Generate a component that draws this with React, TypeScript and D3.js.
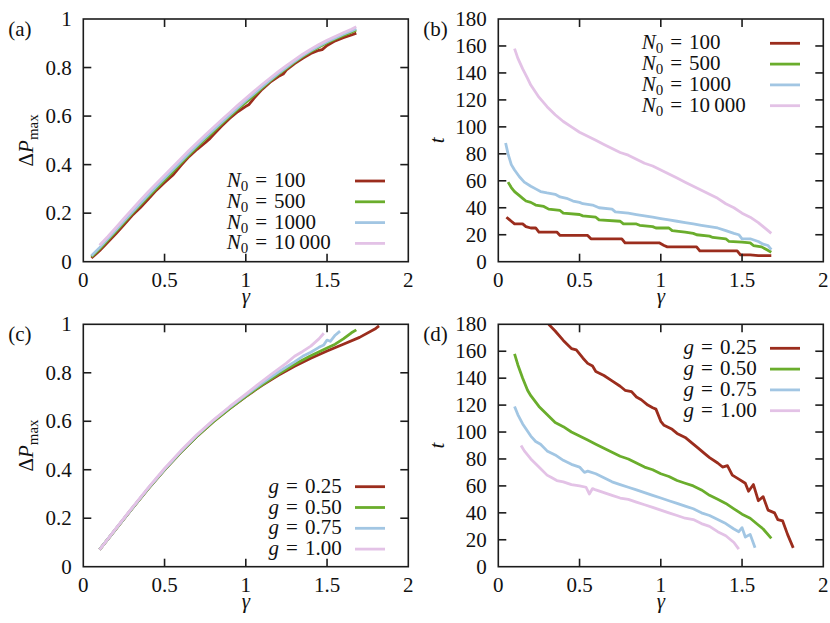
import React from 'react';
import * as d3 from 'd3';

// panel (a): Delta P_max vs gamma for several N0
const aN100 = [[0.05,0.015],[0.1,0.045],[0.15,0.08],[0.2,0.115],[0.25,0.152],[0.3,0.19],[0.35,0.222],[0.4,0.258],[0.45,0.295],[0.5,0.326],[0.55,0.356],[0.6,0.396],[0.65,0.433],[0.7,0.463],[0.75,0.49],[0.78,0.508],[0.8,0.523],[0.85,0.558],[0.9,0.59],[0.95,0.618],[1.0,0.64],[1.02,0.648],[1.05,0.673],[1.1,0.71],[1.15,0.74],[1.2,0.763],[1.23,0.773],[1.25,0.79],[1.3,0.816],[1.35,0.838],[1.4,0.858],[1.45,0.871],[1.47,0.874],[1.5,0.891],[1.55,0.91],[1.6,0.923],[1.65,0.934],[1.68,0.942]];
const aN500 = [[0.05,0.02],[0.1,0.052],[0.15,0.088],[0.2,0.124],[0.25,0.161],[0.3,0.198],[0.35,0.233],[0.4,0.268],[0.45,0.303],[0.5,0.337],[0.55,0.37],[0.6,0.405],[0.65,0.44],[0.7,0.473],[0.75,0.505],[0.8,0.535],[0.85,0.567],[0.9,0.598],[0.95,0.628],[1.0,0.656],[1.05,0.685],[1.1,0.716],[1.15,0.745],[1.2,0.772],[1.25,0.797],[1.3,0.822],[1.35,0.845],[1.4,0.866],[1.45,0.885],[1.5,0.902],[1.55,0.918],[1.6,0.932],[1.65,0.946],[1.68,0.955]];
const aN1000 = [[0.05,0.025],[0.1,0.058],[0.15,0.094],[0.2,0.13],[0.25,0.167],[0.3,0.204],[0.35,0.24],[0.4,0.276],[0.45,0.311],[0.5,0.345],[0.55,0.379],[0.6,0.413],[0.65,0.447],[0.7,0.48],[0.75,0.512],[0.8,0.543],[0.85,0.574],[0.9,0.605],[0.95,0.635],[1.0,0.664],[1.05,0.692],[1.1,0.721],[1.15,0.749],[1.2,0.776],[1.25,0.801],[1.3,0.826],[1.35,0.849],[1.4,0.87],[1.45,0.889],[1.5,0.906],[1.55,0.922],[1.6,0.937],[1.65,0.951],[1.68,0.96]];
const aN10000 = [[0.1,0.068],[0.15,0.103],[0.2,0.14],[0.25,0.178],[0.3,0.215],[0.35,0.252],[0.4,0.288],[0.45,0.322],[0.5,0.356],[0.55,0.39],[0.6,0.424],[0.65,0.458],[0.7,0.49],[0.75,0.522],[0.8,0.553],[0.85,0.584],[0.9,0.614],[0.95,0.644],[1.0,0.673],[1.05,0.702],[1.1,0.73],[1.15,0.757],[1.2,0.783],[1.25,0.808],[1.3,0.832],[1.35,0.855],[1.4,0.876],[1.45,0.895],[1.5,0.912],[1.55,0.928],[1.6,0.943],[1.65,0.958],[1.68,0.968]];

// panel (b): t vs gamma for several N0
const bN100 = [[0.05,33],[0.07,31],[0.08,30],[0.1,28],[0.15,28],[0.17,26],[0.2,25],[0.23,25],[0.25,22],[0.36,22],[0.38,19.5],[0.55,19.5],[0.57,17],[0.76,17],[0.78,14],[0.99,14],[1.02,12],[1.04,11],[1.22,11],[1.24,8],[1.47,8],[1.49,5],[1.55,5],[1.6,4.5],[1.68,4.5]];
const bN500 = [[0.06,59],[0.08,55],[0.1,52],[0.13,49],[0.15,47],[0.17,45],[0.2,44],[0.23,42],[0.28,41],[0.31,39],[0.38,38],[0.4,36],[0.5,35],[0.52,34],[0.6,33],[0.62,31],[0.75,30],[0.77,28],[0.85,28],[0.87,27],[0.95,26],[0.97,25],[1.05,25],[1.07,23],[1.15,22],[1.2,21],[1.22,20],[1.3,19],[1.32,18],[1.4,17],[1.42,15],[1.5,14.5],[1.55,14],[1.57,12],[1.62,11],[1.65,9],[1.68,7]];
const bN1000 = [[0.045,88],[0.06,80],[0.08,72],[0.1,68],[0.13,63],[0.16,59],[0.2,56],[0.23,54],[0.26,52],[0.3,51],[0.35,50],[0.38,48],[0.42,47],[0.46,45],[0.5,44],[0.52,43],[0.58,42],[0.62,40],[0.7,39],[0.72,37],[0.8,36],[0.85,35],[0.9,34],[0.95,33],[1.0,32],[1.05,31],[1.1,30],[1.15,29],[1.2,28],[1.25,27],[1.3,26],[1.35,25],[1.4,23],[1.45,21],[1.48,20],[1.5,17],[1.55,17],[1.6,15],[1.63,13],[1.66,12],[1.68,9]];
const bN10000 = [[0.1,158],[0.12,151],[0.15,143],[0.18,136],[0.2,131],[0.25,122],[0.3,115],[0.35,109],[0.4,104],[0.45,100],[0.5,96],[0.55,93],[0.6,90],[0.65,87],[0.7,84],[0.75,81],[0.8,79],[0.85,76],[0.9,73],[0.95,71],[1.0,68],[1.05,65],[1.1,62],[1.15,59],[1.2,56],[1.25,53],[1.3,50],[1.35,47],[1.4,43],[1.45,40],[1.5,36],[1.55,33],[1.6,29],[1.63,26],[1.66,23],[1.68,21]];

// panel (c): Delta P_max vs gamma for several g
const cG025 = [[0.1,0.07],[0.2,0.155],[0.3,0.24],[0.4,0.322],[0.5,0.4],[0.6,0.472],[0.7,0.538],[0.8,0.598],[0.9,0.652],[1.0,0.702],[1.1,0.748],[1.2,0.79],[1.3,0.827],[1.4,0.86],[1.5,0.89],[1.6,0.918],[1.7,0.946],[1.8,0.983],[1.82,0.993]];
const cG050 = [[0.1,0.07],[0.2,0.155],[0.3,0.24],[0.4,0.322],[0.5,0.4],[0.6,0.472],[0.7,0.538],[0.8,0.598],[0.9,0.652],[1.0,0.703],[1.1,0.75],[1.2,0.795],[1.3,0.835],[1.4,0.87],[1.5,0.902],[1.55,0.918],[1.6,0.94],[1.65,0.965],[1.68,0.977]];
const cG075 = [[0.1,0.07],[0.2,0.156],[0.3,0.241],[0.4,0.324],[0.5,0.402],[0.6,0.475],[0.7,0.542],[0.8,0.603],[0.9,0.657],[1.0,0.708],[1.1,0.757],[1.2,0.803],[1.3,0.845],[1.35,0.868],[1.4,0.885],[1.45,0.905],[1.48,0.915],[1.5,0.935],[1.52,0.93],[1.55,0.955],[1.58,0.972]];
const cG100 = [[0.1,0.07],[0.2,0.157],[0.3,0.243],[0.4,0.326],[0.5,0.405],[0.6,0.478],[0.7,0.545],[0.8,0.605],[0.9,0.66],[1.0,0.712],[1.1,0.765],[1.15,0.79],[1.2,0.815],[1.25,0.84],[1.3,0.868],[1.35,0.888],[1.4,0.91],[1.45,0.94],[1.48,0.963]];

// panel (d): t vs gamma for several g
const dG025 = [[0.31,180],[0.35,175],[0.4,168],[0.45,162],[0.48,161],[0.52,155],[0.55,151],[0.58,149],[0.6,145],[0.65,142],[0.7,138],[0.75,134],[0.78,131],[0.82,130],[0.85,126],[0.88,124],[0.92,120],[0.95,118],[0.97,117],[1.0,108],[1.02,105],[1.07,102],[1.1,99],[1.15,96],[1.2,91],[1.23,88],[1.27,84],[1.3,81],[1.35,77],[1.38,74],[1.41,75],[1.44,68],[1.48,65],[1.52,62],[1.54,56],[1.57,61],[1.6,49],[1.63,52],[1.66,42],[1.7,40],[1.72,35],[1.75,34],[1.78,24],[1.815,14]];
const dG050 = [[0.1,158],[0.12,150],[0.15,140],[0.18,131],[0.2,127],[0.25,119],[0.3,113],[0.35,107],[0.4,104],[0.45,100],[0.5,97],[0.55,94],[0.6,91],[0.65,88],[0.7,85],[0.75,82],[0.8,80],[0.85,77],[0.9,74],[0.95,72],[1.0,69],[1.05,67],[1.1,64],[1.15,62],[1.2,60],[1.25,57],[1.3,53],[1.35,50],[1.4,47],[1.45,43],[1.5,39],[1.55,36],[1.6,31],[1.63,28],[1.68,21]];
const dG075 = [[0.1,119],[0.12,113],[0.15,106],[0.2,97],[0.23,93],[0.26,91],[0.3,86],[0.35,83],[0.4,79],[0.45,76],[0.5,74],[0.53,70],[0.55,71],[0.6,69],[0.65,66],[0.7,63],[0.75,61],[0.8,59],[0.85,57],[0.9,55],[0.95,53],[1.0,51],[1.05,49],[1.1,47],[1.15,45],[1.2,43],[1.25,40],[1.3,38],[1.35,35],[1.4,32],[1.45,28],[1.48,26],[1.5,29],[1.52,22],[1.55,24],[1.58,14]];
const dG100 = [[0.14,90],[0.16,86],[0.2,80],[0.25,74],[0.3,68],[0.33,66],[0.36,64],[0.4,63],[0.45,61],[0.5,60],[0.54,59],[0.56,54],[0.58,58],[0.6,57],[0.65,55],[0.7,53],[0.75,51],[0.8,50],[0.85,48],[0.9,46],[0.95,44],[1.0,42],[1.05,40],[1.1,38],[1.15,36],[1.2,35],[1.25,32],[1.3,30],[1.35,26],[1.4,23],[1.45,18],[1.48,13]];

const xTicks = [0, 0.5, 1, 1.5, 2];
const pTicks = [0, 0.2, 0.4, 0.6, 0.8, 1];
const tTicks = [0, 20, 40, 60, 80, 100, 120, 140, 160, 180];
const nLabels = ['100', '500', '1000', '10\u2009000'];
const gLabels = ['0.25', '0.50', '0.75', '1.00'];
const colors = ['#9b2d1d', '#6aad2c', '#a2c6e3', '#e3c2e6'];

const FONT = 'Liberation Serif';
const FS = 21;

type Pt = number[];
type PanelDef = {
  tag: string; left: number; right: number; top: number; bottom: number;
  yMax: number; yTicks: number[]; yLabel: 'dp' | 't';
  series: Pt[][]; legendKind: 'N' | 'g'; legendTop: number;
};

const panels: PanelDef[] = [
  { tag: '(a)', left: 83.3, right: 408.3, top: 19, bottom: 261.7, yMax: 1, yTicks: pTicks, yLabel: 'dp', series: [aN100, aN500, aN1000, aN10000], legendKind: 'N', legendTop: 162 },
  { tag: '(b)', left: 498.3, right: 823.3, top: 19, bottom: 261.7, yMax: 180, yTicks: tTicks, yLabel: 't', series: [bN100, bN500, bN1000, bN10000], legendKind: 'N', legendTop: 24.3 },
  { tag: '(c)', left: 83.3, right: 408.3, top: 324.3, bottom: 566.7, yMax: 1, yTicks: pTicks, yLabel: 'dp', series: [cG025, cG050, cG075, cG100], legendKind: 'g', legendTop: 162.4 },
  { tag: '(d)', left: 498.3, right: 823.3, top: 324.3, bottom: 566.7, yMax: 180, yTicks: tTicks, yLabel: 't', series: [dG025, dG050, dG075, dG100], legendKind: 'g', legendTop: 24 },
];

function Panel({ p, idx }: { p: PanelDef; idx: number }) {
  const x = d3.scaleLinear().domain([0, 2]).range([p.left, p.right]);
  const y = d3.scaleLinear().domain([0, p.yMax]).range([p.bottom, p.top]);
  const line = d3.line<Pt>().x(d => x(d[0])).y(d => y(d[1]));
  const tick = 8;
  const cy = (p.top + p.bottom) / 2;
  const cx = (p.left + p.right) / 2;
  const clipId = `clip${idx}`;
  const rowGap = 20.8;

  return (
    <g fontFamily={FONT} fontSize={FS} fill="#111">
      <clipPath id={clipId}>
        <rect x={p.left} y={p.top} width={p.right - p.left} height={p.bottom - p.top} />
      </clipPath>
      <g clipPath={`url(#${clipId})`}>
        {p.series.map((s, i) => (
          <path key={i} d={line(s) || ''} fill="none" stroke={colors[i]} strokeWidth={2.8} strokeLinejoin="round" />
        ))}
      </g>
      <rect x={p.left} y={p.top} width={p.right - p.left} height={p.bottom - p.top} fill="none" stroke="#1c1c1c" strokeWidth={1.6} />
      {xTicks.slice(1, -1).map(t => (
        <g key={'xt' + t}>
          <line x1={x(t)} x2={x(t)} y1={p.bottom} y2={p.bottom - tick} stroke="#1c1c1c" strokeWidth={1.6} />
          <line x1={x(t)} x2={x(t)} y1={p.top} y2={p.top + tick} stroke="#1c1c1c" strokeWidth={1.6} />
        </g>
      ))}
      {p.yTicks.slice(1, -1).map(t => (
        <g key={'yt' + t}>
          <line x1={p.left} x2={p.left + tick} y1={y(t)} y2={y(t)} stroke="#1c1c1c" strokeWidth={1.6} />
          <line x1={p.right} x2={p.right - tick} y1={y(t)} y2={y(t)} stroke="#1c1c1c" strokeWidth={1.6} />
        </g>
      ))}
      {xTicks.map(t => (
        <text key={'xl' + t} x={x(t)} y={p.bottom + 25} textAnchor="middle">{String(t)}</text>
      ))}
      {p.yTicks.map(t => (
        <text key={'yl' + t} x={p.left - 11.6} y={y(t) + 7} textAnchor="end">{String(t)}</text>
      ))}
      <text x={cx} y={p.bottom + 41} textAnchor="middle" fontStyle="italic">γ</text>
      {p.yLabel === 'dp' ? (
        <text transform={`translate(${p.left - 50},${cy}) rotate(-90)`} textAnchor="middle">
          <tspan>Δ</tspan><tspan fontStyle="italic">P</tspan><tspan fontSize={15} dy={5}>max</tspan>
        </text>
      ) : (
        <text transform={`translate(${p.left - 54},${cy}) rotate(-90)`} textAnchor="middle" fontStyle="italic">t</text>
      )}
      <text x={p.left - 75} y={p.top + 17}>{p.tag}</text>
      {colors.map((c, i) => {
        const ry = p.top + p.legendTop + i * rowGap;
        const sx0 = p.left + 271.7;
        return (
          <g key={'lg' + i}>
            <line x1={sx0} x2={sx0 + 30} y1={ry} y2={ry} stroke={c} strokeWidth={2.8} />
            {p.legendKind === 'N' ? (
              <text x={p.left + 143.4} y={ry + 6}>
                <tspan fontStyle="italic">N</tspan>
                <tspan fontSize={15} dy={4}>0</tspan>
                <tspan dx={7} dy={-4}>=</tspan>
                <tspan dx={7}>{nLabels[i]}</tspan>
              </text>
            ) : (
              <text x={p.left + 258.4} y={ry + 6} textAnchor="end">
                <tspan fontStyle="italic">g</tspan>
                <tspan dx={7}>=</tspan>
                <tspan dx={7}>{gLabels[i]}</tspan>
              </text>
            )}
          </g>
        );
      })}
    </g>
  );
}

export default function App() {
  return (
    <svg width={830} height={623} style={{ position: 'absolute', left: 0, top: 0, background: '#fff' }}>
      {panels.map((p, i) => <Panel key={p.tag} p={p} idx={i} />)}
    </svg>
  );
}
